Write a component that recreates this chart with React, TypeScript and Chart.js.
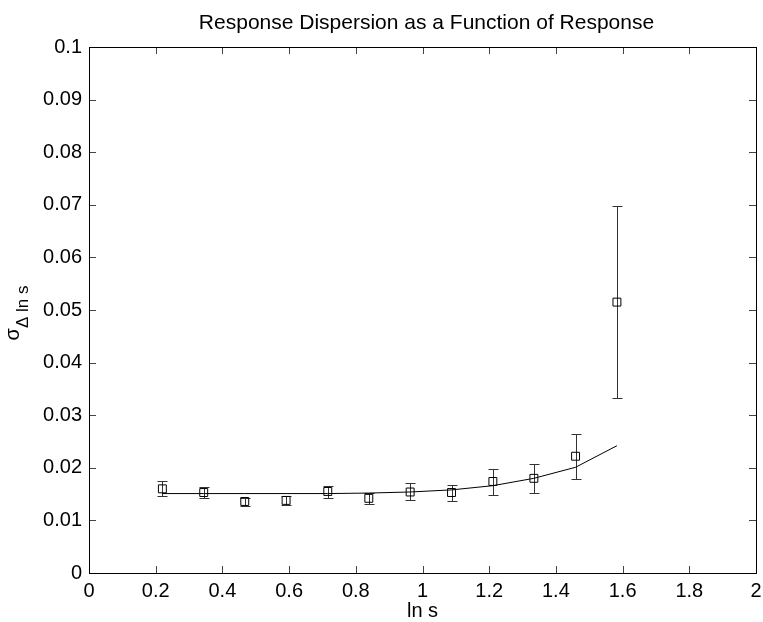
import React, { useEffect, useRef } from "react";
import { Chart, registerables } from "chart.js";
Chart.register(...registerables);

const chartTitle = "Response Dispersion as a Function of Response";
const xAxisLabel = "ln s";
const yAxisMain = "σ";
const yAxisSub = "Δ ln s";

const xTicks = [0, 0.2, 0.4, 0.6, 0.8, 1, 1.2, 1.4, 1.6, 1.8, 2];
const yTicks = [0, 0.01, 0.02, 0.03, 0.04, 0.05, 0.06, 0.07, 0.08, 0.09, 0.1];

const xValues = [0.22, 0.344, 0.467, 0.591, 0.716, 0.839, 0.963, 1.087, 1.211, 1.334, 1.459, 1.583];
const yValues = [0.016, 0.0153, 0.0136, 0.0138, 0.0155, 0.0142, 0.0154, 0.0153, 0.0174, 0.018, 0.0222, 0.0515];
const errUpper = [0.0174, 0.0163, 0.0142, 0.0146, 0.0166, 0.01515, 0.0171, 0.0168, 0.0198, 0.0208, 0.0265, 0.0697];
const errLower = [0.0146, 0.0142, 0.0128, 0.0129, 0.0142, 0.0131, 0.0138, 0.0136, 0.0148, 0.0152, 0.0179, 0.0333];
const fitValues = [0.0151, 0.0151, 0.0151, 0.0151, 0.0151, 0.0152, 0.0154, 0.0158, 0.0166, 0.018, 0.0201, 0.0242];

const FONT = "'Liberation Sans', Arial, Helvetica, sans-serif";

const fmt = (v: number) => String(Number(v.toFixed(3)));

const errorBarPlugin = {
  id: "errorBars",
  beforeDatasetsDraw(chart: any) {
    const { ctx, scales } = chart;
    const xs = scales.x;
    const ys = scales.y;
    ctx.save();
    ctx.strokeStyle = "#333333";
    ctx.lineWidth = 1;
    const cap = 5;
    for (let i = 0; i < xValues.length; i++) {
      const px = Math.round(xs.getPixelForValue(xValues[i])) + 0.5;
      const pTop = Math.round(ys.getPixelForValue(errUpper[i])) + 0.5;
      const pBot = Math.round(ys.getPixelForValue(errLower[i])) + 0.5;
      ctx.beginPath();
      ctx.moveTo(px, pTop);
      ctx.lineTo(px, pBot);
      ctx.moveTo(px - cap, pTop);
      ctx.lineTo(px + cap, pTop);
      ctx.moveTo(px - cap, pBot);
      ctx.lineTo(px + cap, pBot);
      ctx.stroke();
    }
    ctx.restore();
  },
};

const framePlugin = {
  id: "frameAndText",
  afterDraw(chart: any) {
    const { ctx, chartArea, scales } = chart;
    const { left, right, top, bottom } = chartArea;
    ctx.save();
    // ticks inside
    ctx.strokeStyle = "#444444";
    ctx.lineWidth = 1;
    const tl = 7;
    ctx.beginPath();
    for (const v of xTicks) {
      const px = Math.round(scales.x.getPixelForValue(v)) + 0.5;
      ctx.moveTo(px, bottom);
      ctx.lineTo(px, bottom - tl);
      ctx.moveTo(px, top);
      ctx.lineTo(px, top + tl);
    }
    for (const v of yTicks) {
      const py = Math.round(scales.y.getPixelForValue(v)) + 0.5;
      ctx.moveTo(left, py);
      ctx.lineTo(left + tl, py);
      ctx.moveTo(right, py);
      ctx.lineTo(right - tl, py);
    }
    ctx.stroke();
    // frame
    ctx.strokeStyle = "#000000";
    ctx.lineWidth = 1;
    ctx.strokeRect(Math.round(left) + 0.5, Math.round(top) + 0.5, Math.round(right - left), Math.round(bottom - top));

    // title
    ctx.fillStyle = "#000000";
    ctx.font = `21px ${FONT}`;
    ctx.textAlign = "center";
    ctx.textBaseline = "alphabetic";
    ctx.fillText(chartTitle, (left + right) / 2 + 4, 29);
    // x label
    ctx.font = `20px ${FONT}`;
    ctx.fillText(xAxisLabel, (left + right) / 2, 617);
    // y label with subscript
    ctx.translate(19, 313);
    ctx.rotate(-Math.PI / 2);
    ctx.font = `20px ${FONT}`;
    const wMain = ctx.measureText(yAxisMain).width;
    ctx.font = `17px ${FONT}`;
    const wSub = ctx.measureText(yAxisSub).width;
    const total = wMain + wSub;
    ctx.textAlign = "left";
    ctx.font = `20px ${FONT}`;
    ctx.fillText(yAxisMain, -total / 2, 0);
    ctx.font = `17px ${FONT}`;
    ctx.fillText(yAxisSub, -total / 2 + wMain, 9);
    ctx.restore();
  },
};

export default function App() {
  const ref = useRef<HTMLCanvasElement | null>(null);
  useEffect(() => {
    document.body.style.margin = "0";
    const canvas = ref.current;
    if (!canvas) return;
    const chart = new Chart(canvas, {
      type: "scatter",
      data: {
        datasets: [
          {
            label: "fit",
            data: xValues.map((x, i) => ({ x, y: fitValues[i] })),
            showLine: true,
            borderColor: "#000000",
            borderWidth: 1,
            pointRadius: 0,
            fill: false,
          },
          {
            label: "data",
            data: xValues.map((x, i) => ({ x, y: yValues[i] })),
            showLine: false,
            pointStyle: "rect",
            pointRadius: 5.6,
            borderColor: "#000000",
            backgroundColor: "rgba(0,0,0,0)",
            borderWidth: 1,
          },
        ],
      },
      options: {
        responsive: false,
        animation: false,
        devicePixelRatio: 1,
        layout: { padding: { left: 0, top: 47, right: 7, bottom: 0 } },
        plugins: { legend: { display: false }, tooltip: { enabled: false }, title: { display: false } },
        scales: {
          x: {
            type: "linear",
            min: 0,
            max: 2,
            grid: { display: false, drawTicks: false },
            border: { display: false },
            afterBuildTicks: (s: any) => {
              s.ticks = xTicks.map((v) => ({ value: v }));
            },
            afterFit: (s: any) => {
              s.height = 49;
              s.paddingLeft = 0;
              s.paddingRight = 0;
            },
            ticks: {
              autoSkip: false,
              maxRotation: 0,
              padding: 6,
              color: "#000000",
              font: { family: FONT, size: 20 },
              callback: (v: any) => fmt(Number(v)),
            },
          },
          y: {
            type: "linear",
            min: 0,
            max: 0.1,
            grid: { display: false, drawTicks: false },
            border: { display: false },
            afterBuildTicks: (s: any) => {
              s.ticks = yTicks.map((v) => ({ value: v }));
            },
            afterFit: (s: any) => {
              s.width = 89;
              s.paddingTop = 0;
              s.paddingBottom = 0;
            },
            ticks: {
              autoSkip: false,
              padding: 7,
              color: "#000000",
              font: { family: FONT, size: 20 },
              callback: (v: any) => fmt(Number(v)),
            },
          },
        },
      },
      plugins: [errorBarPlugin, framePlugin],
    });
    return () => chart.destroy();
  }, []);
  return (
    <div style={{ width: 763, height: 622, background: "#ffffff" }}>
      <canvas ref={ref} width={763} height={622} style={{ display: "block" }} />
    </div>
  );
}
